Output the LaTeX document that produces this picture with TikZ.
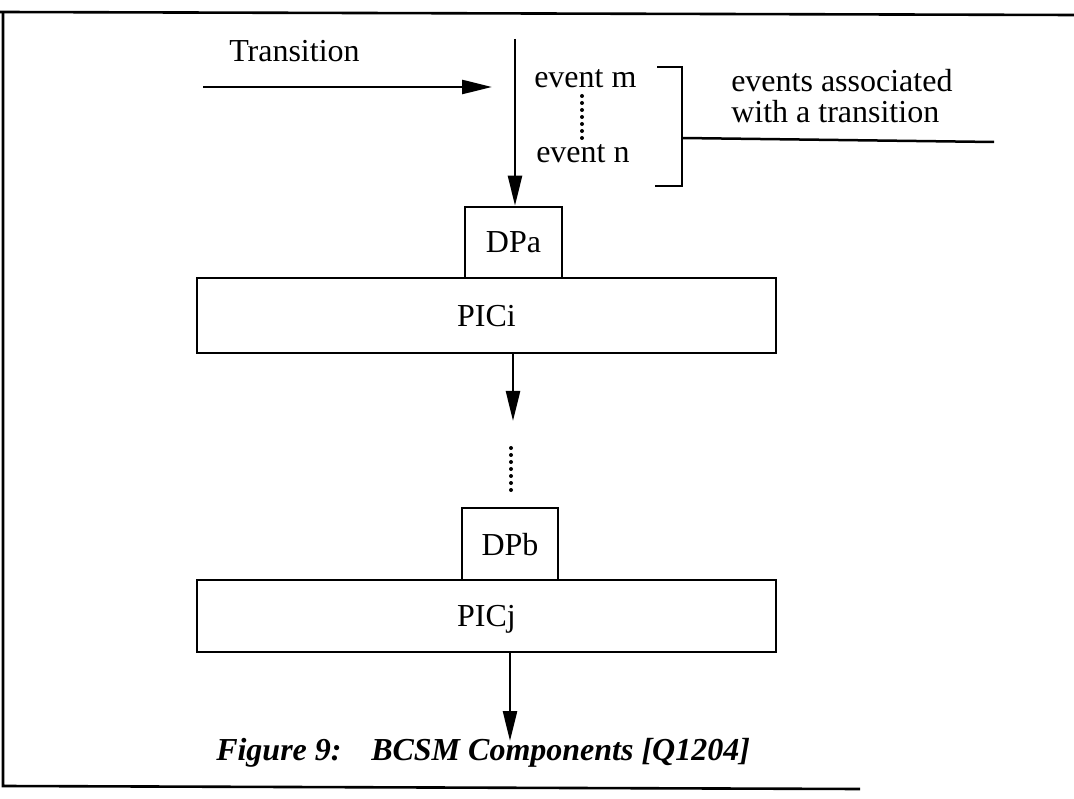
\documentclass[tikz,border=0pt]{standalone}
\usepackage{fontspec}
\setmainfont{Liberation Serif}
\usetikzlibrary{arrows.meta}
\begin{document}
\begin{tikzpicture}[x=1pt,y=-1pt,
  line width=2.5pt,
  txt/.style={font=\fontsize{32}{36}\selectfont, inner sep=0pt, anchor=base west},
  box/.style={draw, line width=2.6pt, inner sep=0pt, text depth=0pt,
    font=\fontsize{32}{36}\selectfont},
  arr/.style={-{Triangle[length=30pt,width=14pt]}},
  dots/.style={line width=4pt, line cap=round, dash pattern=on 0pt off 7pt},
  captxt/.style={font=\fontsize{32}{36}\selectfont\bfseries\itshape, inner sep=0pt, anchor=base west}]
\useasboundingbox (0,0) rectangle (1074,799);

% frame
\draw[line width=2.6pt] (0,12) -- (1074,15);
\draw[line width=2.6pt] (3,12) -- (3,786) -- (860,789);

% transition arrow and label
\node[txt] (trans) at (228,62) {Transition};
\coordinate (trS) at (203,87);
\coordinate (trE) at (492,87);
\draw[arr] (trS) -- (trE);

% events of the transition
\node[txt] (evm) at (533,88) {event m};
\node[txt] (evn) at (535,163) {event n};
\coordinate (e1) at (582,96);
\coordinate (e2) at (582,141);
\draw[dots] (e1) -- (e2);

% bracket and leader
\coordinate (bT) at (657,67);
\coordinate (bTR) at (682,67);
\coordinate (bBR) at (682,186);
\coordinate (bB) at (655,186);
\coordinate (lS) at (682,138);
\coordinate (lE) at (994,142);
\draw (bT) -- (bTR) -- (bBR) -- (bB);
\draw (lS) -- (lE);
\node[txt] (assoc1) at (730,92) {events associated};
\node[txt] (assoc2) at (730,123) {with a transition};

% first detection point and PIC
\node[box, minimum width=97pt, minimum height=71pt] (DPa) at (513.5,242.5) {DPa};
\node[box, minimum width=579pt, minimum height=75pt] (PICi) at (486.5,315.5) {PICi};
\coordinate (top) at (515,39);
\draw[arr] (top) -- (top |- DPa.north);

\coordinate (a1) at (513,421);
\draw[arr] (PICi.south -| a1) -- (a1);

\coordinate (d1) at (511,448);
\coordinate (d2) at (511,497);
\draw[dots] (d1) -- (d2);

% second detection point and PIC
\node[box, minimum width=96pt, minimum height=72pt] (DPb) at (510,544) {DPb};
\node[box, minimum width=579pt, minimum height=72pt] (PICj) at (486.5,616) {PICj};
\coordinate (a2) at (510,741);
\draw[arr] (PICj.south -| a2) -- (a2);

% caption
\node[captxt] (fig) at (215,760) {Figure 9:};
\node[captxt] (title) at (370,760) {BCSM Components [Q1204]};
\end{tikzpicture}
\end{document}
